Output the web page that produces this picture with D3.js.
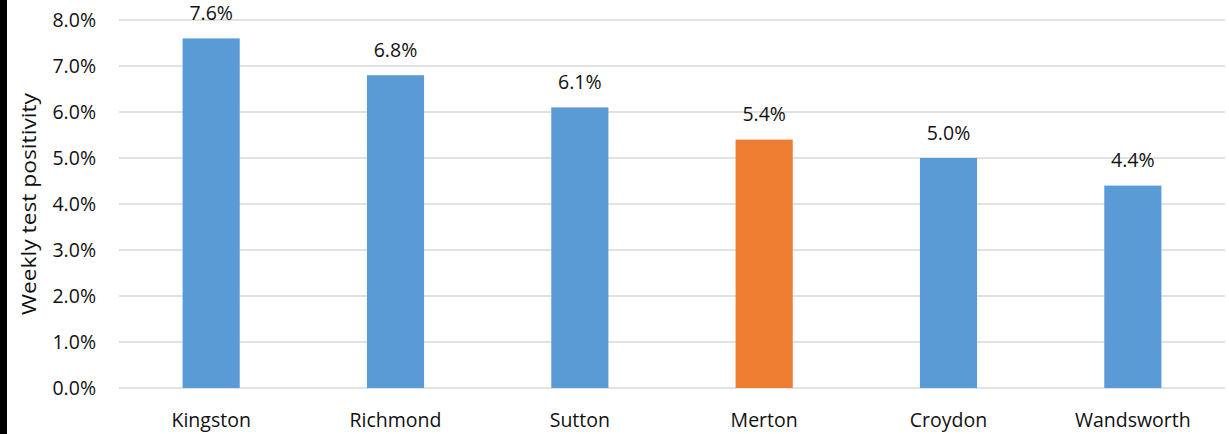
<!DOCTYPE html>
<html><head><meta charset="utf-8">
<script src="https://cdn.jsdelivr.net/npm/d3@7"></script>
<style>body{margin:0;background:#fff;}svg{display:block;}</style>
</head><body>
<svg id="c" width="1229" height="434"></svg>
<script>
const categories = ["Kingston","Richmond","Sutton","Merton","Croydon","Wandsworth"];
const values = [7.6, 6.8, 6.1, 5.4, 5.0, 4.4];
const highlight = ["Merton"];
const yTicks = [0,1,2,3,4,5,6,7,8];
const yTitle = "Weekly test positivity";

const svg = d3.select("#c");
const W = 1229, H = 434;
const m = {left:119, right:4, top:20, bottom:46};
const font = "'Open Sans', sans-serif";
const fs = 19.5;
const ink = "#111";

svg.append("rect").attr("x",0).attr("y",0).attr("width",7).attr("height",H).attr("fill","#000");

const x = d3.scaleBand().domain(categories).range([m.left, W - m.right]).paddingInner(0.69).paddingOuter(0.345);
const y = d3.scaleLinear().domain([0,8]).range([H - m.bottom, m.top]);

svg.append("g").selectAll("line").data(yTicks).join("line")
  .attr("x1", m.left).attr("x2", W - m.right)
  .attr("y1", d=>y(d)).attr("y2", d=>y(d))
  .attr("stroke","#d9d9d9").attr("stroke-width",1.3);

const yAxis = svg.append("g").attr("transform",`translate(${m.left},0)`)
  .call(d3.axisLeft(y).tickValues(yTicks).tickFormat(d=>d.toFixed(1)+"%").tickSize(0).tickPadding(23));
yAxis.select(".domain").remove();
yAxis.selectAll("text").attr("font-family",font).attr("font-size",fs).attr("fill",ink).attr("dy","0.34em");

svg.append("g").selectAll("rect").data(categories).join("rect")
  .attr("x", d=>x(d)).attr("width", x.bandwidth())
  .attr("y", (d,i)=>y(values[i])).attr("height", (d,i)=>y(0)-y(values[i]))
  .attr("fill", d=>highlight.includes(d) ? "#ed7d31" : "#5b9bd5");

svg.append("g").selectAll("text").data(categories).join("text")
  .attr("x", d=>x(d)+x.bandwidth()/2).attr("y",(d,i)=>y(values[i])-18.5)
  .attr("text-anchor","middle").attr("font-family",font).attr("font-size",fs).attr("fill",ink)
  .text((d,i)=>values[i].toFixed(1)+"%");

const xAxis = svg.append("g").attr("transform",`translate(0,${y(0)})`)
  .call(d3.axisBottom(x).tickSize(0).tickPadding(0));
xAxis.select(".domain").remove();
xAxis.selectAll("text").attr("font-family",font).attr("font-size",fs).attr("fill",ink).attr("y",38.5).attr("dy",0);

svg.append("text").attr("transform",`translate(36,${(y(0)+y(8))/2}) rotate(-90)`)
  .attr("text-anchor","middle").attr("font-family",font).attr("font-size",20).attr("fill",ink)
  .attr("textLength",222).attr("lengthAdjust","spacingAndGlyphs")
  .text(yTitle);
</script>
</body></html>
